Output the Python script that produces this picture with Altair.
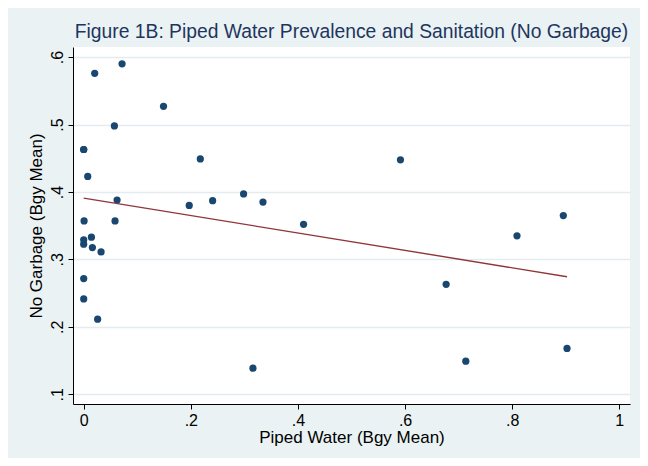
import altair as alt
import pandas as pd

piped_water = [0.0205, 0.0716, 0.149, 0.0573, 0.0, 0.0, 0.2177, 0.0075, 0.0623,
               0.197, 0.2407, 0.2985, 0.0007, 0.0585, 0.0, 0.0, 0.0144, 0.0162,
               0.0324, 0.0, 0.0, 0.026, 0.316, 0.3347, 0.4105, 0.5914, 0.6767,
               0.809, 0.8955, 0.7134, 0.9024]
no_garbage = [0.576, 0.590, 0.527, 0.498, 0.463, 0.463, 0.449, 0.423, 0.388,
              0.380, 0.387, 0.397, 0.357, 0.357, 0.329, 0.3225, 0.333, 0.3175,
              0.311, 0.2715, 0.2414, 0.2113, 0.1386, 0.385, 0.352, 0.4476, 0.263,
              0.335, 0.365, 0.149, 0.168]
x_ticks = [0, 0.2, 0.4, 0.6, 0.8, 1.0]
y_ticks = [0.1, 0.2, 0.3, 0.4, 0.5, 0.6]

df = pd.DataFrame({"x": piped_water, "y": no_garbage})

FONT = "Liberation Sans"
label_expr = ("datum.value == 0 ? '0' : datum.value == 1 ? '1' : "
              "replace(format(datum.value, '.1f'), '0.', '.')")

x_enc = alt.X("x:Q", scale=alt.Scale(domain=[-0.02, 1.02], nice=False, zero=False),
              axis=alt.Axis(title="Piped Water (Bgy Mean)", values=x_ticks,
                            labelExpr=label_expr, grid=False))
y_enc = alt.Y("y:Q", scale=alt.Scale(domain=[0.0855, 0.615], nice=False, zero=False),
              axis=alt.Axis(title="No Garbage (Bgy Mean)", values=y_ticks,
                            labelExpr=label_expr, labelAngle=270, grid=True))

base = alt.Chart(df)
points = base.mark_circle(size=52, opacity=1, color="#1a476f").encode(x=x_enc, y=y_enc)
fit = base.transform_regression("x", "y").mark_line(color="#90353b", strokeWidth=1.4).encode(
    x="x:Q", y="y:Q")

chart = alt.layer(points, fit).properties(
    width=557, height=357,
    title=alt.TitleParams("Figure 1B: Piped Water Prevalence and Sanitation (No Garbage)",
                          font=FONT, fontSize=19.3, fontWeight="normal", color="#1e3560",
                          anchor="middle", offset=5),
    padding={"left": 65, "top": 39, "right": 10, "bottom": 54},
    autosize=alt.AutoSizeParams(type="none"),
    background="#eaf2f3",
).configure_view(fill="white", stroke=None).configure_axis(
    labelFont=FONT, titleFont=FONT, labelFontSize=16, titleFontSize=17,
    titleFontWeight="normal", labelColor="black", titleColor="black",
    domainColor="black", tickColor="black", tickSize=5, domainWidth=1, tickWidth=1,
    gridColor="#e3ecef", gridWidth=1.5, labelPadding=3,
).configure_axisX(titlePadding=1).configure_axisY(titlePadding=4)

chart.save("out.html", embed_options={"renderer": "svg", "actions": False})
